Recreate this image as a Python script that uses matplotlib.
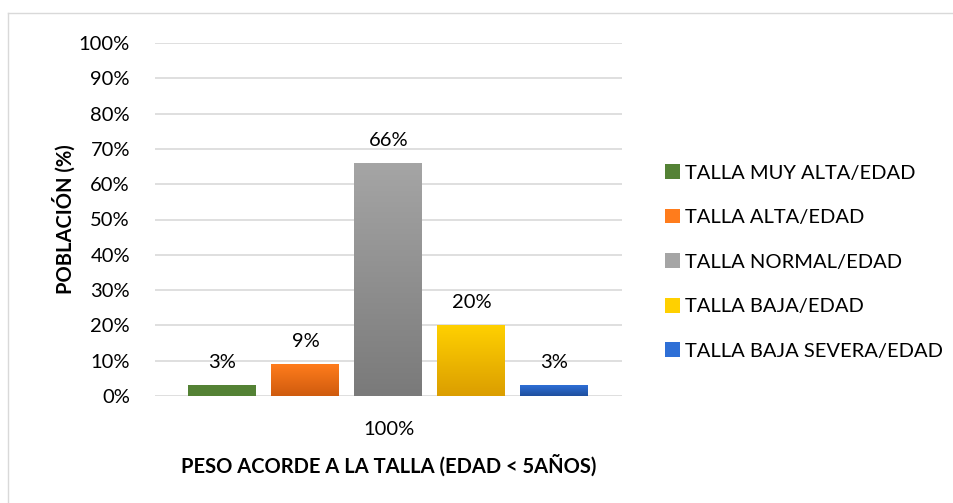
import matplotlib.pyplot as plt
import numpy as np
from matplotlib.colors import LinearSegmentedColormap
from matplotlib.lines import Line2D
from matplotlib.ticker import PercentFormatter

plt.rcParams['font.family'] = ['Lato', 'DejaVu Sans']

# data
categories = ['TALLA MUY ALTA/EDAD', 'TALLA ALTA/EDAD', 'TALLA NORMAL/EDAD',
              'TALLA BAJA/EDAD', 'TALLA BAJA SEVERA/EDAD']
values = [3, 9, 66, 20, 3]
group_label = '100%'
# gradient colours (top, bottom)
colors = [('#548235', '#548235'), ('#FF7C1C', '#CF5B0E'), ('#A5A5A5', '#7A7A7A'),
          ('#FFD000', '#DB9E00'), ('#2E6FD6', '#1F4F9E')]

fig = plt.figure(figsize=(9.54, 5.03), dpi=100)
ax = fig.add_axes([155 / 954, 1 - 396 / 503, 467 / 954, 353 / 503])

# chart border (top and left visible)
fig.add_artist(Line2D([8 / 954, 8 / 954], [0, 1 - 13 / 503], color='#D9D9D9', lw=1))
fig.add_artist(Line2D([8 / 954, 1], [1 - 13 / 503, 1 - 13 / 503], color='#D9D9D9', lw=1))

step = 83 / 467
width = 68 / 467
xs = (np.arange(len(values)) - 2) * step

for x, v, (top, bot), name in zip(xs, values, colors, categories):
    bar = ax.bar(x, v, width=width, color=top, label=name, zorder=2)[0]
    cmap = LinearSegmentedColormap.from_list('g', [bot, top])
    grad = np.linspace(0, 1, 100).reshape(-1, 1)
    im = ax.imshow(grad, cmap=cmap, origin='lower', aspect='auto',
                   extent=[x - width / 2, x + width / 2, 0, v], zorder=2.5)
    im.set_clip_path(bar)
    ax.text(x, v + 4, f'{v}%', ha='center', va='bottom', fontsize=14.5, color='#000000')

ax.set_xlim(-0.5, 0.5)
ax.set_ylim(0, 100)
ax.set_yticks(np.arange(0, 101, 10))
ax.yaxis.set_major_formatter(PercentFormatter(decimals=0))
ax.set_xticks([0])
ax.set_xticklabels([group_label])
ax.tick_params(axis='both', length=0, labelsize=14.5, colors='#000000')
ax.tick_params(axis='x', pad=18)
ax.tick_params(axis='y', pad=18)
ax.grid(axis='y', color='#D9D9D9', lw=1.2, zorder=0)
ax.set_axisbelow(True)
for s in ax.spines.values():
    s.set_visible(False)

ax.set_xlabel('PESO ACORDE A LA TALLA (EDAD < 5AÑOS)', fontsize=14.5, fontweight='bold', labelpad=12)
ax.set_ylabel('POBLACIÓN (%)', fontsize=14.5, fontweight='bold', labelpad=2)

ax.legend(loc='center left', bbox_to_anchor=(647 / 954, 1 - 262 / 503),
          bbox_transform=fig.transFigure, frameon=False, fontsize=14.5,
          handlelength=0.75, handleheight=0.75, handletextpad=0.25, labelspacing=1.35)

fig.savefig('out.png', dpi=100)
